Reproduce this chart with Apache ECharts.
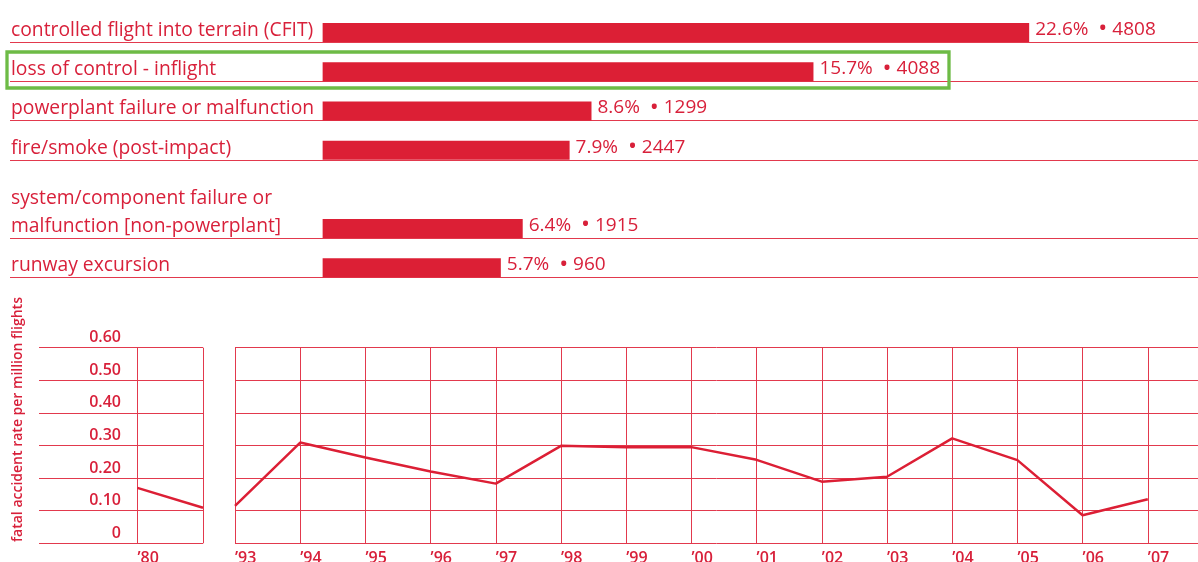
<!DOCTYPE html>
<html><head><meta charset="utf-8">
<script src="https://cdn.jsdelivr.net/npm/echarts@6/dist/echarts.min.js"></script>
<style>html,body{margin:0;padding:0;background:#fff}#c{width:1198px;height:562px}</style>
</head><body><div id="c"></div>
<script>
// ---- data ----
const categories = [
  'controlled flight into terrain (CFIT)',
  'loss of control - inflight',
  'powerplant failure or malfunction',
  'fire/smoke (post-impact)',
  '',
  'system/component failure or\nmalfunction [non-powerplant]',
  'runway excursion'
];
const shares = [22.6, 15.7, 8.6, 7.9, null, 6.4, 5.7];
const counts = [4808, 4088, 1299, 2447, null, 1915, 960];
const underlineRows = [false, true, true, true, true, false, true, true];

const earlyYears = [1980, 1981];
const earlyRates = [0.17, 0.109];
const years = [1993, 1994, 1995, 1996, 1997, 1998, 1999, 2000, 2001, 2002, 2003, 2004, 2005, 2006, 2007];
const rates = [0.115, 0.309, 0.263, 0.22, 0.183, 0.299, 0.295, 0.295, 0.256, 0.189, 0.204, 0.322, 0.255, 0.086, 0.135];
const rateMax = 0.6;
const rateStep = 0.1;
const yAxisTitle = 'fatal accident rate per million flights';

// ---- style ----
const FONT = "'Open Sans', sans-serif";
const RED = '#dc1f35';
const TXT = '#d8203a';
const GRIDC = '#e2394d';

const chart = echarts.init(document.getElementById('c'), null, {renderer: 'canvas'});

function catLabel(v) {
  const lines = v.split('\n');
  if (lines.length > 1) {
    lines.push(' ');
    return lines.map(l => '{m|' + l + '}').join('\n');
  }
  return '{t|' + v + '}';
}

const labelFont = {color: TXT, fontFamily: FONT, fontSize: 19.3, fontWeight: 500};

const option = {
  animation: false,
  backgroundColor: '#fff',
  grid: [
    {left: 10, right: 0, top: 13, height: 274.4, outerBoundsMode: 'none', containLabel: false},
    {left: 10, right: 0, top: 3, height: 274.4, outerBoundsMode: 'none', containLabel: false},
    {left: 39, width: 164, top: 347.7, height: 195.6, outerBoundsMode: 'none', containLabel: false},
    {left: 235, right: 0, top: 347.7, height: 195.6, outerBoundsMode: 'none', containLabel: false}
  ],
  xAxis: [
    {gridIndex: 0, type: 'value', min: -10, max: 28, show: false},
    {gridIndex: 1, type: 'value', min: 0, max: 1, show: false},
    {gridIndex: 2, type: 'value', min: 1978.5, max: 1981,
      axisLine: {show: false},
      axisTick: {show: false, customValues: [1980, 1981]},
      axisLabel: {customValues: [1980], color: TXT, fontFamily: FONT, fontSize: 16, fontWeight: 600,
        align: 'left', margin: 7, formatter: v => '\u2019' + String(v).slice(2)},
      splitLine: {show: true, lineStyle: {color: GRIDC, width: 1}}
    },
    {gridIndex: 3, type: 'value', min: 1993, max: 2007.77, interval: 1,
      axisLine: {show: false},
      axisTick: {show: false},
      axisLabel: {color: TXT, fontFamily: FONT, fontSize: 16, fontWeight: 600, showMaxLabel: false,
        align: 'left', margin: 7,
        formatter: v => Number.isInteger(v) ? '\u2019' + String(v).slice(2) : ''},
      splitLine: {show: true, lineStyle: {color: GRIDC, width: 1}}
    }
  ],
  yAxis: [
    {gridIndex: 0, type: 'category', inverse: true, data: categories,
      axisLine: {show: false}, axisTick: {show: false}, splitLine: {show: false},
      axisLabel: {inside: true, margin: 1, interval: 0, showMinLabel: true, showMaxLabel: true, hideOverlap: false,
        verticalAlign: 'middle', formatter: catLabel,
        rich: {
          t: Object.assign({lineHeight: 24, padding: [0, 0, 4, 0]}, labelFont),
          m: Object.assign({lineHeight: 28, padding: [0, 0, 4, 0]}, labelFont)
        }}
    },
    {gridIndex: 1, type: 'value', inverse: true, min: 0, max: 7, interval: 1,
      axisLine: {show: false}, axisTick: {show: false}, axisLabel: {show: false},
      splitLine: {show: true, lineStyle: {width: 1,
        color: underlineRows.map(u => u ? GRIDC : 'rgba(0,0,0,0)')}}
    },
    {gridIndex: 2, type: 'value', min: 0, max: rateMax, interval: rateStep,
      axisLine: {show: false}, axisTick: {show: false},
      axisLabel: {inside: true, margin: 82, align: 'right', verticalAlign: 'bottom', lineHeight: 16,
        showMinLabel: true, showMaxLabel: true,
        padding: [0, 0, 2, 0], color: TXT, fontFamily: FONT, fontSize: 16, fontWeight: 600,
        formatter: v => v === 0 ? '0' : v.toFixed(2)},
      splitLine: {show: true, lineStyle: {color: GRIDC, width: 1}},
      name: yAxisTitle, nameLocation: 'middle', nameRotate: 90, nameGap: 14,
      nameTextStyle: {color: TXT, fontFamily: FONT, fontSize: 14, fontWeight: 600, padding: [0, 0, 0, 52]}
    },
    {gridIndex: 3, type: 'value', min: 0, max: rateMax, interval: rateStep,
      axisLine: {show: false}, axisTick: {show: false}, axisLabel: {show: false},
      splitLine: {show: true, lineStyle: {color: GRIDC, width: 1}}
    }
  ],
  series: [
    {type: 'bar', xAxisIndex: 0, yAxisIndex: 0, barWidth: 19, data: shares,
      itemStyle: {color: RED},
      label: {show: true, position: 'right', distance: 6, padding: [0, 0, 6, 0], lineHeight: 28,
        formatter: p => p.value == null ? '' :
          '{p|' + p.value.toFixed(1) + '%  }{b|\u2022}{n| ' + counts[p.dataIndex] + '}',
        rich: {
          p: {color: TXT, fontFamily: FONT, fontSize: 19, fontWeight: 500},
          b: {color: TXT, fontFamily: FONT, fontSize: 24},
          n: {color: TXT, fontFamily: FONT, fontSize: 19}
        }
      }
    },
    {type: 'line', xAxisIndex: 2, yAxisIndex: 2, symbol: 'none',
      data: earlyYears.map((y, i) => [y, earlyRates[i]]),
      lineStyle: {color: RED, width: 2.5}},
    {type: 'line', xAxisIndex: 3, yAxisIndex: 3, symbol: 'none',
      data: years.map((y, i) => [y, rates[i]]),
      lineStyle: {color: RED, width: 2.5}}
  ],
  graphic: [
    {type: 'rect', shape: {x: 7, y: 52, width: 942, height: 36},
      style: {fill: 'none', stroke: '#6dbb46', lineWidth: 3.3}, z: 10}
  ]
};
chart.setOption(option);
</script>
</body></html>
